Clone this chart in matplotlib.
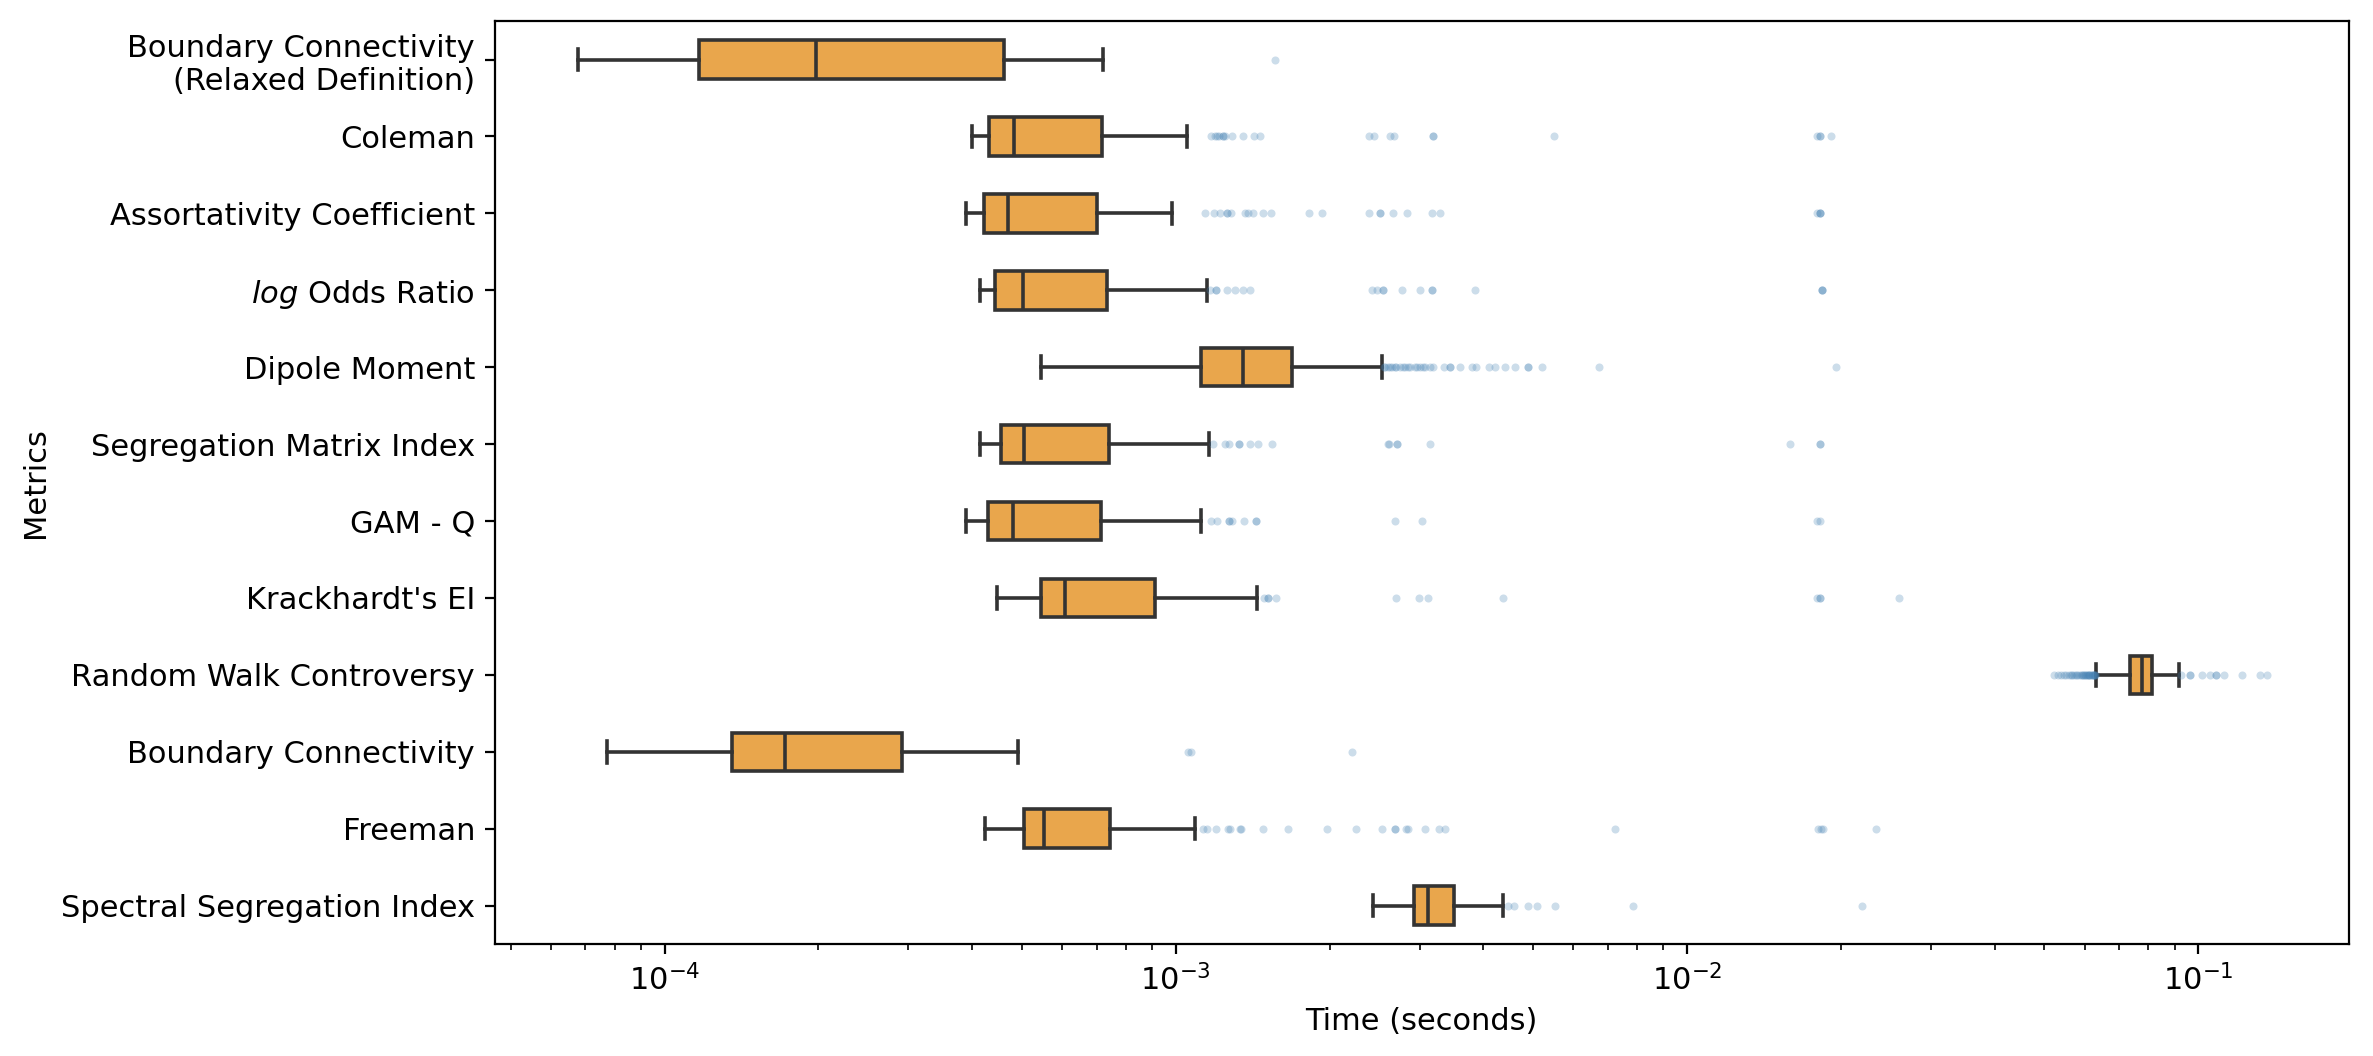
import matplotlib
matplotlib.use("Agg")
import matplotlib.pyplot as plt

plt.rcParams["font.size"] = 11

# =========================
# Data
# =========================
metrics = [
    "Boundary Connectivity\n(Relaxed Definition)",
    "Coleman",
    "Assortativity Coefficient",
    r"$\it{log}$ Odds Ratio",
    "Dipole Moment",
    "Segregation Matrix Index",
    "GAM - Q",
    "Krackhardt's EI",
    "Random Walk Controversy",
    "Boundary Connectivity",
    "Freeman",
    "Spectral Segregation Index",
]

whislo = [6.77e-5, 3.99e-4, 3.89e-4, 4.15e-4, 5.44e-4, 4.14e-4, 3.88e-4, 4.47e-4, 6.32e-2, 7.73e-5, 4.245e-4, 2.427e-3]
q1 = [1.168e-4, 4.32e-4, 4.21e-4, 4.44e-4, 1.121e-3, 4.55e-4, 4.29e-4, 5.45e-4, 7.37e-2, 1.355e-4, 5.04e-4, 2.92e-3]
med = [1.977e-4, 4.83e-4, 4.70e-4, 5.02e-4, 1.354e-3, 5.04e-4, 4.80e-4, 6.08e-4, 7.77e-2, 1.722e-4, 5.53e-4, 3.12e-3]
q3 = [4.62e-4, 7.18e-4, 7.01e-4, 7.35e-4, 1.692e-3, 7.41e-4, 7.15e-4, 9.09e-4, 8.13e-2, 2.918e-4, 7.45e-4, 3.51e-3]
whishi = [7.21e-4, 1.054e-3, 9.85e-4, 1.151e-3, 2.531e-3, 1.161e-3, 1.120e-3, 1.44e-3, 9.17e-2, 4.91e-4, 1.089e-3, 4.365e-3]

fliers_bc_relaxed = [1.567e-3]
fliers_coleman = [1.174e-3, 1.195e-3, 1.207e-3, 1.218e-3, 1.240e-3, 1.240e-3, 1.246e-3,
                  1.288e-3, 1.357e-3, 1.42e-3, 1.465e-3, 2.388e-3, 2.445e-3, 2.628e-3,
                  2.676e-3, 3.18e-3, 3.18e-3, 5.49e-3, 1.80e-2, 1.82e-2, 1.82e-2, 1.917e-2]
fliers_assort = [1.142e-3, 1.186e-3, 1.222e-3, 1.260e-3, 1.260e-3, 1.282e-3, 1.368e-3,
                 1.388e-3, 1.416e-3, 1.485e-3, 1.536e-3, 1.819e-3, 1.929e-3, 2.394e-3,
                 2.512e-3, 2.512e-3, 2.656e-3, 2.829e-3, 3.176e-3, 3.288e-3,
                 1.797e-2, 1.824e-2, 1.824e-2, 1.824e-2]
fliers_logodds = [1.168e-3, 1.198e-3, 1.198e-3, 1.260e-3, 1.306e-3, 1.357e-3, 1.398e-3,
                  2.42e-3, 2.475e-3, 2.544e-3, 2.544e-3, 2.766e-3, 3.0e-3, 3.166e-3,
                  3.166e-3, 3.843e-3, 1.838e-2, 1.838e-2, 1.838e-2]
fliers_dipole = [2.55e-3, 2.57e-3, 2.60e-3, 2.628e-3, 2.65e-3, 2.688e-3, 2.70e-3, 2.75e-3,
                 2.78e-3, 2.812e-3, 2.85e-3, 2.876e-3, 2.942e-3, 2.96e-3, 3.009e-3,
                 3.05e-3, 3.077e-3, 3.147e-3, 3.19e-3, 3.342e-3, 3.444e-3, 3.444e-3,
                 3.602e-3, 3.797e-3, 3.871e-3, 4.093e-3, 4.217e-3, 4.411e-3, 4.615e-3,
                 4.879e-3, 4.879e-3, 5.205e-3, 6.74e-3, 1.954e-2]
fliers_seg = [1.181e-3, 1.246e-3, 1.27e-3, 1.328e-3, 1.328e-3, 1.40e-3, 1.450e-3, 1.540e-3,
              2.60e-3, 2.617e-3, 2.710e-3, 2.710e-3, 3.143e-3, 1.588e-2, 1.818e-2, 1.818e-2]
fliers_gam = [1.17e-3, 1.202e-3, 1.27e-3, 1.27e-3, 1.29e-3, 1.36e-3, 1.434e-3, 1.434e-3,
              2.682e-3, 3.034e-3, 1.797e-2, 1.824e-2]
fliers_krack = [1.487e-3, 1.513e-3, 1.513e-3, 1.568e-3, 2.70e-3, 2.99e-3, 3.12e-3, 4.37e-3,
                1.80e-2, 1.82e-2, 1.82e-2, 2.596e-2]
fliers_rw = [0.0522, 0.0531, 0.0540, 0.0546, 0.0552, 0.0558, 0.0563, 0.0568, 0.0573, 0.0577,
             0.0581, 0.0585, 0.0589, 0.0592, 0.0595, 0.0598, 0.0601, 0.0604, 0.0607, 0.0610,
             0.0613, 0.0616, 0.0619, 0.0622, 0.0625, 0.0628, 0.0630, 0.0626, 0.0620, 0.0611,
             0.0928, 0.0966, 0.0966, 0.1018, 0.1054, 0.1086, 0.1086, 0.1122, 0.1220, 0.1324, 0.1365]
fliers_bc = [1.057e-3, 1.069e-3, 2.21e-3]
fliers_freeman = [1.132e-3, 1.153e-3, 1.199e-3, 1.265e-3, 1.276e-3, 1.336e-3, 1.345e-3,
                  1.485e-3, 1.662e-3, 1.979e-3, 2.256e-3, 2.537e-3, 2.687e-3, 2.687e-3,
                  2.82e-3, 2.853e-3, 3.077e-3, 3.268e-3, 3.366e-3, 7.25e-3,
                  1.807e-2, 1.827e-2, 1.849e-2, 2.347e-2]
fliers_spectral = [4.47e-3, 4.58e-3, 4.89e-3, 5.10e-3, 5.51e-3, 7.86e-3, 2.20e-2]

fliers = [fliers_bc_relaxed, fliers_coleman, fliers_assort, fliers_logodds, fliers_dipole,
          fliers_seg, fliers_gam, fliers_krack, fliers_rw, fliers_bc, fliers_freeman,
          fliers_spectral]

# =========================
# Box stats
# =========================
stats = []
for i in range(len(metrics)):
    stats.append({
        "med": med[i], "q1": q1[i], "q3": q3[i],
        "whislo": whislo[i], "whishi": whishi[i],
        "fliers": fliers[i], "label": metrics[i],
    })

# =========================
# Plot
# =========================
fig, ax = plt.subplots(figsize=(2373 / 200, 1056 / 200), dpi=200)
fig.subplots_adjust(left=0.2084, right=0.9897, bottom=0.106, top=0.980)

line_color = "#333333"
positions = list(range(len(metrics)))

ax.bxp(
    stats,
    positions=positions,
    widths=0.5,
    capwidths=0.28,
    orientation="horizontal",
    patch_artist=True,
    showfliers=True,
    boxprops=dict(facecolor="#E9A64C", edgecolor=line_color, linewidth=1.3),
    medianprops=dict(color=line_color, linewidth=1.3),
    whiskerprops=dict(color=line_color, linewidth=1.3),
    capprops=dict(color=line_color, linewidth=1.3),
    flierprops=dict(marker="o", markersize=2.9, markerfacecolor="steelblue",
                    markeredgecolor="none", alpha=0.27, linestyle="none"),
)

ax.set_xscale("log")
ax.set_xlim(4.65e-5, 0.197)
ax.set_ylim(len(metrics) - 0.5, -0.5)
ax.set_yticks(positions)
ax.set_yticklabels(metrics)

ax.set_xlabel("Time (seconds)")
ax.set_ylabel("Metrics")

plt.savefig("out.png", dpi=200)
